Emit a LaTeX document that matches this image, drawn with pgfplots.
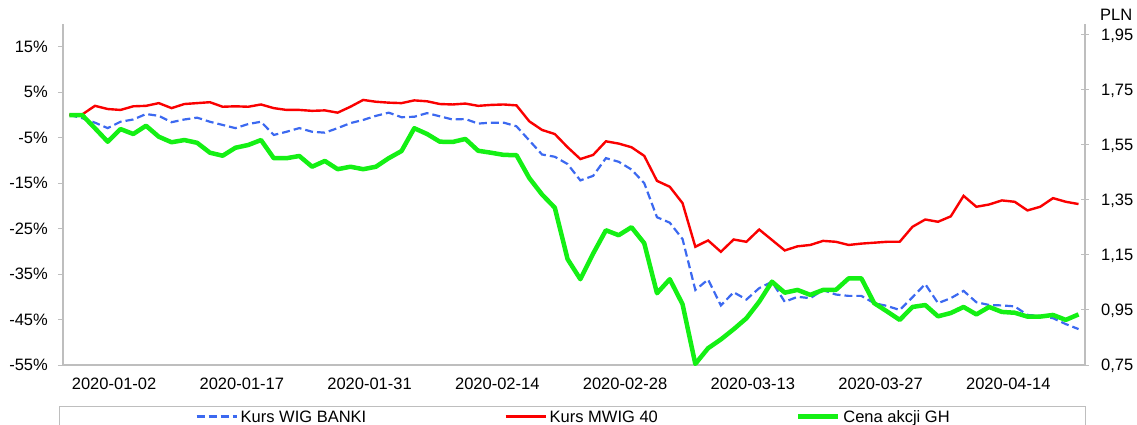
\documentclass[border=0pt]{standalone}
\usepackage{fontspec}
\setmainfont{Liberation Sans}
\usepackage{pgfplots}
\usepackage{pgfplotstable}
\pgfplotsset{compat=1.18}
\definecolor{cblue}{RGB}{60,105,240}
\definecolor{cred}{RGB}{250,0,0}
\definecolor{cgreen}{RGB}{20,240,20}
\definecolor{axgray}{RGB}{190,190,190}

\pgfplotstableread{
i blue red green
0 0.0 0.0 1.659
1 -0.7 0.1 1.659
2 -1.7 2.0 1.611
3 -2.9 1.3 1.562
4 -1.5 1.1 1.608
5 -1.0 1.9 1.590
6 0.2 2.0 1.620
7 -0.2 2.6 1.580
8 -1.6 1.5 1.560
9 -1.0 2.4 1.568
10 -0.6 2.6 1.558
11 -1.5 2.8 1.522
12 -2.2 1.8 1.511
13 -2.9 1.9 1.540
14 -2.0 1.8 1.550
15 -1.5 2.3 1.568
16 -4.4 1.5 1.502
17 -3.7 1.1 1.502
18 -2.9 1.1 1.510
19 -3.7 0.9 1.471
20 -3.9 1.0 1.492
21 -2.9 0.5 1.462
22 -1.8 1.8 1.471
23 -1.1 3.3 1.462
24 -0.2 2.9 1.471
25 0.5 2.7 1.502
26 -0.5 2.6 1.528
27 -0.4 3.2 1.611
28 0.4 3.0 1.590
29 -0.3 2.4 1.562
30 -1.0 2.3 1.561
31 -0.9 2.5 1.572
32 -1.9 2.0 1.529
33 -1.7 2.2 1.522
34 -1.7 2.3 1.514
35 -2.5 2.1 1.513
36 -5.6 -1.4 1.430
37 -8.7 -3.3 1.370
38 -9.2 -4.2 1.322
39 -10.8 -7.1 1.135
40 -14.4 -9.7 1.062
41 -13.4 -8.8 1.155
42 -9.5 -5.8 1.240
43 -10.3 -6.3 1.222
44 -12.0 -7.1 1.251
45 -15.0 -9.0 1.193
46 -22.5 -14.5 1.011
47 -23.7 -15.8 1.062
48 -27.3 -19.4 0.971
49 -38.5 -29.0 0.754
50 -36.2 -27.6 0.811
51 -41.9 -30.1 0.843
52 -39.0 -27.4 0.880
53 -40.6 -27.9 0.920
54 -38.1 -25.2 0.980
55 -36.7 -27.5 1.053
56 -41.1 -29.8 1.013
57 -40.0 -28.9 1.023
58 -40.3 -28.6 1.005
59 -38.5 -27.7 1.023
60 -39.5 -27.9 1.023
61 -39.8 -28.6 1.065
62 -39.8 -28.3 1.065
63 -41.4 -28.1 0.975
64 -42.0 -27.9 0.945
65 -42.9 -27.9 0.914
66 -40.1 -24.6 0.961
67 -37.2 -23.0 0.968
68 -41.4 -23.5 0.927
69 -40.3 -22.3 0.939
70 -38.7 -17.8 0.961
71 -41.2 -20.2 0.934
72 -41.8 -19.7 0.961
73 -41.9 -18.8 0.943
74 -42.1 -19.1 0.940
75 -44.0 -21.0 0.926
76 -44.2 -20.2 0.926
77 -44.7 -18.3 0.932
78 -46.0 -19.1 0.914
79 -47.1 -19.6 0.934
}\datatable

\begin{document}
\fontsize{16.5bp}{19bp}\selectfont
\begin{tikzpicture}
\useasboundingbox (0,0) rectangle (1137bp,425bp);
\pgfplotsset{
  common/.style={
    scale only axis, width=1022bp, height=341bp,
    at={(63bp,60bp)}, anchor=south west,
    xmin=-0.5, xmax=79.5,
    tick label style={font=\fontsize{16.5bp}{19bp}\selectfont, text depth=0pt},
    axis line style={axgray, line width=1.5bp},
    major tick style={axgray, line width=1bp},
  }
}
\begin{axis}[common,
  ymin=-55, ymax=20,
  axis x line*=bottom, axis y line*=left,
  xtick={3.5,13.5,23.5,33.5,43.5,53.5,63.5,73.5},
  xticklabels={2020-01-02,2020-01-17,2020-01-31,2020-02-14,2020-02-28,2020-03-13,2020-03-27,2020-04-14},
  xtick style={draw=none},
  xticklabel style={anchor=north, inner sep=0pt, yshift=-8bp},
  ytick={-55,-45,-35,-25,-15,-5,5,15},
  yticklabels={-55\%,-45\%,-35\%,-25\%,-15\%,-5\%,5\%,15\%},
  tick align=outside, major tick length=5bp,
  yticklabel style={anchor=east, inner sep=0pt, xshift=-10bp},
]
\addplot[cblue, line width=2.2bp, dash pattern=on 8bp off 4bp] table[x=i, y=blue] {\datatable};
\addplot[cred, line width=2.4bp] table[x=i, y=red] {\datatable};
\end{axis}
\begin{axis}[common, name=ax2,
  ymin=0.75, ymax=1.99,
  axis x line=none, axis y line*=right,
  ytick={0.75,0.95,1.15,1.35,1.55,1.75,1.95},
  yticklabels={{0,75},{0,95},{1,15},{1,35},{1,55},{1,75},{1,95}},
  tick align=center, major tick length=8bp,
  yticklabel style={anchor=west, inner sep=0pt, xshift=12bp},
  legend columns=3,
  legend style={draw=axgray, line width=1bp,
    at={(axis description cs:0,0)}, anchor=north west, xshift=-4bp, yshift=-41bp,
    inner xsep=136bp, inner ysep=4bp,
    font=\fontsize{16.5bp}{19bp}\selectfont,
    nodes={inner sep=0pt, text depth=0pt},
    /tikz/every odd column/.append style={column sep=3bp},
    /tikz/every even column/.append style={column sep=138bp}},
  legend image code/.code={\draw[#1] (0bp,0bp) -- (40bp,0bp);},
]
\addlegendimage{cblue, line width=2.2bp, dash pattern=on 8bp off 4bp}
\addlegendentry{Kurs WIG BANKI}
\addlegendimage{cred, line width=2.4bp}
\addlegendentry{Kurs MWIG 40}
\addplot[cgreen, line width=4.5bp, line join=round] table[x=i, y=green] {\datatable};
\addlegendentry{Cena akcji GH}
\end{axis}
\node[anchor=south west, inner sep=0pt, xshift=15bp, yshift=3bp] at (ax2.north east) {PLN};
\end{tikzpicture}
\end{document}
